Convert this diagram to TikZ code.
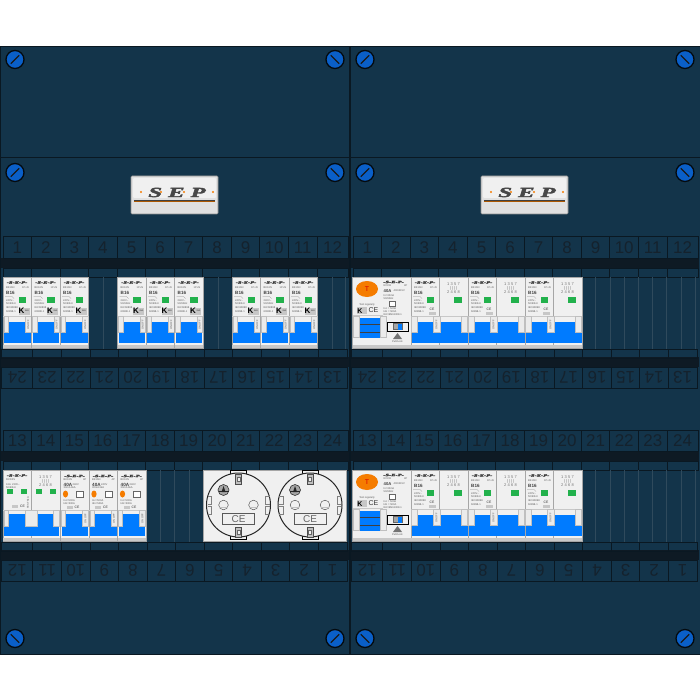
\documentclass[tikz,border=0pt]{standalone}
\usepackage{fontspec}
\setmainfont{Liberation Sans}
\setsansfont{Liberation Sans}
\newfontfamily\logofont{Liberation Serif}[BoldItalicFeatures={FakeBold=2.5}]
\definecolor{panelblue}{HTML}{13344A}
\definecolor{edgedark}{HTML}{0A1822}
\definecolor{banddark}{HTML}{0E1A24}
\definecolor{numdark}{HTML}{15222D}
\definecolor{slotline}{HTML}{2F4A5C}
\definecolor{modwhite}{HTML}{F0F0F0}
\definecolor{modgrey}{HTML}{C8C8C8}
\definecolor{modblue}{HTML}{007BFF}
\definecolor{modgreen}{HTML}{22B14C}
\definecolor{screwblue}{HTML}{0A5FC8}
\definecolor{rcdorange}{HTML}{F57C00}
\tikzset{
  panel/.style={fill=panelblue,draw=edgedark,line width=1pt},
  cellbox/.style={draw=edgedark,line width=1pt},
  band/.style={fill=banddark},
  numtxt/.style={font=\fontsize{17}{17}\selectfont,text=numdark,inner sep=0pt},
  tinytxt/.style={font=\fontsize{2.6}{3}\selectfont,text=black!65,inner sep=0pt},
  ratingtxt/.style={font=\bfseries\fontsize{4.6}{5}\selectfont,text=black!75,inner sep=0pt},
  logotxt/.style={font=\logofont\bfseries\itshape\fontsize{3.6}{4}\selectfont,text=black!80,inner sep=0pt,xscale=1.8},
  kbox/.style={fill=black!22},
  toggle/.style={fill=black!8,draw=black!25,line width=0.4pt},
  screwhead/.style={fill=screwblue,draw=black!80!panelblue,line width=1.3pt},
  screwslot/.style={draw=black!90,line width=1.2pt},
}
\newcommand\numrow[5]{
  \foreach \i in {0,...,11}{
    \pgfmathsetmacro\cellw{\i==11 ? 31 : 28.55}
    \pgfmathsetmacro\cellx{#3+#4*(3+28.55*\i)}
    \pgfmathtruncatemacro\cellnum{#2+\i}
    \draw[cellbox] (\cellx,#1) rectangle +(#4*\cellw,21);
    \node[numtxt,rotate=#5] (num#1a#3a\i) at (\cellx+#4*\cellw/2,#1+10.5) {\cellnum};
  }
}
\newcommand\slotrow[3]{
  \foreach \i in {0,...,11}{
    \pgfmathsetmacro\cellw{\i==11 ? 31 : 28.55}
    \pgfmathsetmacro\cellx{#2+#3*(3+28.55*\i)}
    \draw[cellbox] (\cellx,#1) rectangle +(#3*\cellw,9);
  }
}
\newcommand\screw[3]{
  \draw[screwhead] (#1,#2) circle [radius=9];
  \draw[screwslot,shift={(#1,#2)},rotate=#3] (-6,0)--(6,0);
}
\newcommand\modbody[3]{
  \fill[modwhite] (#1,#2) rectangle +(#3,71);
  \draw[black!35,line width=0.4pt] (#1,#2) rectangle +(#3,71);
}
\newcommand\mcbhead{
  \node[logotxt] (logo) at (14,5.5) {-S-E-P-};
  \node[tinytxt,anchor=west] (type) at (3,10.5) {BK16N};
  \node[tinytxt,anchor=east] (pole) at (26,10.5) {1P+N};
  \node[ratingtxt,anchor=west] (rating) at (3,15.8) {B16};
  \draw[black!45,line width=0.3pt] (2,19.5)--(9,19.5)--(11,21.5);
  \fill[modgreen] (15.5,20) rectangle +(7.5,6);
  \node[tinytxt,anchor=west] (volt) at (3,24) {240V\textasciitilde};
  \node[tinytxt,anchor=west] (freq) at (3,27) {50/60Hz};
  \node[tinytxt,anchor=west] (norm) at (3,31) {IEC60898};
  \node[tinytxt,anchor=west] (code) at (3,34.5) {60898-1};
}
\newcommand\mcb[2]{
  \begin{scope}[shift={(#1,#2)},name prefix=m#1y#2-]
    \modbody{0}{0}{28.5}
    \mcbhead
    \fill[kbox] (15.5,30.5) rectangle +(11,7);
    \node[font=\bfseries\fontsize{8}{8}\selectfont,text=black,inner sep=0pt] (kema) at (18.5,34.2) {K};
    \node[font=\fontsize{2.2}{3}\selectfont,text=black!80,inner sep=0pt] (kcap) at (24,34) {6kA};
    \draw[modgrey,line width=0.5pt] (0,39)--(28.5,39);
    \fill[modgrey] (0.3,68)--(28.2,68)--(28.2,70.7)--(0.3,70.7)--cycle;
    \fill[modblue] (1,44.5) rectangle (27.5,66);
    \draw[toggle] (1,39.5) rectangle (5.5,55);
    \draw[toggle] (22.5,39.5) rectangle (28,55);
    \node[tinytxt,rotate=90] (onoff) at (25.2,48) {ON OFF};
  \end{scope}
}
\newcommand\npoledots[1]{
  \node[font=\fontsize{4}{4.5}\selectfont,text=black!55,inner sep=0pt,align=center] (npole) at (#1+14,11) {1\,\,3\,\,5\,\,7\\[-0.5pt]| | | |\\[-0.5pt]2\,\,4\,\,6\,\,8};
}
\newcommand\dpole[2]{
  \begin{scope}[shift={(#1,#2)},name prefix=d#1y#2-]
    \modbody{0}{0}{57}
    \draw[black!35,line width=0.4pt] (28.5,0)--(28.5,71);
    \mcbhead
    \node[font=\fontsize{3.4}{4}\selectfont,text=black!80,inner sep=0pt] (ce) at (21,32) {CE};
    \fill[kbox] (18,34.5) rectangle +(7,3);
    \npoledots{28.5}
    \fill[modgreen] (43,20) rectangle +(7.5,6);
    \draw[modgrey,line width=0.5pt] (0,39)--(57,39);
    \fill[modgrey] (0.3,68) rectangle (56.7,70.7);
    \fill[modblue] (0.5,44.5) rectangle (56.5,66);
    \draw[toggle] (0.5,39.5) rectangle (6.5,55);
    \draw[toggle] (22,39.5) rectangle (29.5,55);
    \draw[toggle] (50.5,39.5) rectangle (56.5,55);
    \node[tinytxt,rotate=90] (onoff) at (25.5,48) {ON OFF};
  \end{scope}
}
\newcommand\spole[2]{
  \begin{scope}[shift={(#1,#2)},name prefix=p#1y#2-]
    \modbody{0}{0}{57}
    \draw[black!35,line width=0.4pt] (28.5,0)--(28.5,71);
    \node[logotxt] (logo) at (14,5.5) {-S-E-P-};
    \node[tinytxt,anchor=west] (type) at (3,10) {RCD2S};
    \node[tinytxt,anchor=west] (volt) at (3,14.5) {16A\,\,\,230V\textasciitilde};
    \node[tinytxt,anchor=west] (freq) at (3,18) {50/60Hz};
    \npoledots{28.5}
    \foreach \greenx in {4,18,33,47}
      \fill[modgreen] (\greenx,19) rectangle +(6,5);
    \node[tinytxt,rotate=90] (test) at (25,33) {TEST 6kA};
    \fill[kbox] (8.5,34.5) rectangle +(6,3);
    \node[font=\fontsize{3.4}{4}\selectfont,text=black!80,inner sep=0pt] (ce) at (19.5,36) {CE};
    \draw[modgrey,line width=0.5pt] (0,40)--(57,40);
    \fill[modgrey] (0.3,68) rectangle (56.7,70.7);
    \fill[modblue] (1,44) rectangle (56,66);
    \draw[toggle] (1,40.5) rectangle (5.5,56);
    \draw[toggle] (22,40.5) rectangle (34.5,56);
    \draw[toggle] (50,40.5) rectangle (56,56);
  \end{scope}
}
\newcommand\rcd[2]{
  \begin{scope}[shift={(#1,#2)},name prefix=r#1y#2-]
    \modbody{0}{0}{58.5}
    \fill[rcdorange] (14.5,12) circle [x radius=11,y radius=8];
    \node[font=\fontsize{7}{7}\selectfont,text=red!85!black,inner sep=0pt] (test) at (14.5,12) {T};
    \node[tinytxt] (regular) at (14.5,28) {Test regularly};
    \node[logotxt] (logo) at (41,5) {-S-E-P-};
    \node[tinytxt,anchor=west] (type) at (31,9) {RCCB};
    \node[tinytxt,anchor=east] (pole) at (55,9) {4P};
    \node[font=\bfseries\fontsize{4.2}{5}\selectfont,text=black!75,inner sep=0pt,anchor=west] (amps) at (31,14) {40A};
    \node[tinytxt,anchor=west] (volt) at (41,14) {400/415V};
    \node[tinytxt,anchor=west] (idn) at (31,18.5) {In=30mA};
    \node[tinytxt,anchor=west] (hz) at (31,22) {50/60Hz};
    \draw[black!60,fill=white,line width=0.4pt] (37,24.5) rectangle +(5.5,5);
    \node[tinytxt,anchor=west] (inc) at (31,32) {Inc = 500A};
    \node[tinytxt,anchor=west] (idc) at (31,35) {Idn = 500A};
    \node[tinytxt,anchor=west] (norm) at (31,38) {IEC/EN61008-1};
    \fill[kbox] (4,30) rectangle +(10,7);
    \node[font=\bfseries\fontsize{7}{7}\selectfont,text=black,inner sep=0pt] (kema) at (7.5,33.6) {K};
    \node[font=\fontsize{7}{7}\selectfont,text=black!80,inner sep=0pt] (ce) at (21,33.5) {CE};
    \draw[modgrey,line width=0.5pt] (0,38.5)--(30,38.5);
    \fill[modgrey] (0.3,68) rectangle (58.2,70.7);
    \fill[modblue] (7,41) rectangle (28,61);
    \draw[black!75,line width=0.5pt] (7,47)--(28,47) (7,55)--(28,55);
    \draw[toggle] (1,39) rectangle (7,60);
    \draw[toggle] (28,39) rectangle (34,60);
    \draw[black,fill=modwhite,line width=0.8pt] (35,45) rectangle (56,54);
    \draw[black!60,fill=black!35,line width=0.4pt] (41,46.5) rectangle (50,52.5);
    \fill[modblue] (45,46.5) rectangle (49,52.5);
    \fill[black!55] (40.5,62)--(49.5,62)--(45,56)--cycle;
    \node[tinytxt] (lock) at (45,64.5) {Pull/Lock};
  \end{scope}
}
\newcommand\rcbo[2]{
  \begin{scope}[shift={(#1,#2)},name prefix=b#1y#2-]
    \modbody{0}{0}{28.5}
    \node[logotxt] (logo) at (14,6) {-S-E-P-};
    \node[tinytxt,anchor=west] (type) at (3,10) {BK16N};
    \node[tinytxt,anchor=east] (pole) at (26,10) {4P};
    \node[ratingtxt,anchor=west] (amps) at (3,14.5) {40A};
    \node[tinytxt,anchor=west] (volt) at (12,14.5) {240V};
    \node[tinytxt,anchor=west] (idn) at (3,18) {30mA 6kA};
    \fill[rcdorange] (5,24) circle [x radius=2.6,y radius=3.5];
    \draw[black!60,fill=white,line width=0.4pt] (16,21) rectangle +(7,6);
    \node[tinytxt,anchor=west] (inc) at (3,31) {Inc=500A};
    \node[tinytxt,anchor=west] (idc) at (3,34) {Idn=500A};
    \fill[kbox] (6,35.5) rectangle +(6,3);
    \node[font=\fontsize{3.4}{4}\selectfont,text=black!80,inner sep=0pt] (ce) at (16.5,37) {CE};
    \draw[modgrey,line width=0.5pt] (0,40)--(28.5,40);
    \fill[modgrey] (0.3,68) rectangle (28.2,70.7);
    \fill[modblue] (1,44) rectangle (27.5,66);
    \draw[toggle] (1,40.5) rectangle (5,56);
    \draw[toggle] (22,40.5) rectangle (28,56);
    \node[tinytxt,rotate=90] (onoff) at (25,48.5) {ON OFF};
  \end{scope}
}
\newcommand\socket[2]{
  \begin{scope}[shift={(#1,#2)},name prefix=s#1y#2-]
    \draw[black,fill=modwhite,line width=0.5pt] (-8,-34.5) rectangle (8,34.5);
    \draw[black!85,fill=modwhite,line width=1pt] (0,0) circle [radius=32];
    \draw[black!70,fill=black!25,line width=0.7pt] (-3,-31) rectangle (3,-21);
    \draw[black!70,fill=black!25,line width=0.7pt] (-3,22) rectangle (3,32);
    \draw[black!60,fill=modwhite,line width=0.5pt] (-1.5,-28) rectangle (1.5,-24);
    \draw[black!60,fill=modwhite,line width=0.5pt] (-1.5,25) rectangle (1.5,29);
    \draw[black!80,fill=black!35,line width=0.6pt] (-15,-15) circle [radius=5.5];
    \fill[black!85] (-17,-13)--(-13,-13)--(-15,-19)--cycle;
    \draw[black!85,line width=0.6pt] (-20,-13.5)--(-10,-13.5);
    \draw[black!65,fill=modwhite,line width=0.5pt] (-15,0) circle [radius=4.8];
    \fill[black!25] (-19.4,1.5) rectangle (-10.6,2.5);
    \draw[black!65,fill=modwhite,line width=0.5pt] (15,0) circle [radius=4.8];
    \fill[black!25] (10.6,1.5) rectangle (19.4,2.5);
    \draw[black!65,line width=0.5pt] (-16,8.5) rectangle (16,19);
    \node[font=\fontsize{10}{10}\selectfont,text=black!60,inner sep=0pt] (ce) at (0,14) {CE};
    \draw[black!50,line width=0.5pt] (-31,-9)--(-27,-9)--(-27,-1)--(-31,-1);
    \draw[black!50,line width=0.5pt] (-31,9)--(-27,9)--(-27,1)--(-31,1);
    \draw[black!50,line width=0.5pt] (31,-9)--(27,-9)--(27,-1)--(31,-1);
    \draw[black!50,line width=0.5pt] (31,9)--(27,9)--(27,1)--(31,1);
  \end{scope}
}
\newcommand\seplogo[1]{
  \begin{scope}[shift={(#1,0)},name prefix=l#1-]
    \draw[black!45,fill=black!12,rounded corners=1pt,line width=0.6pt] (131,176) rectangle (218,214);
    \fill[black!6,rounded corners=1pt] (133,178) rectangle (216,198);
    \node[font=\logofont\bfseries\itshape\fontsize{14}{14}\selectfont,text=black!72,xscale=1.75,inner sep=0pt] (sep) at (177,192.5) {S\hspace{3.5pt}E\hspace{3.5pt}P};
    \foreach \dotx in {141,161,184,213}
      \fill[rcdorange] (\dotx,192) circle [radius=1.2];
    \draw[rcdorange!70!black,line width=0.5pt] (134,201.2)--(215,201.2);
    \draw[black!75,line width=0.9pt] (134,200)--(215,200);
  \end{scope}
}
\begin{document}
\begin{tikzpicture}[x=1pt,y=-1pt]
\useasboundingbox (0,0) rectangle (700,700);
\fill[white] (0,0) rectangle (700,700);
\draw[panel] (0,46.5) rectangle (350,654);
\draw[panel] (350,46.5) rectangle (700,654);

\foreach \off in {0,350}{
  \draw[edgedark,line width=1pt] (\off,157.5)--(\off+350,157.5);
  \fill[band] (\off+1,258) rectangle (\off+349,268);
  \fill[band] (\off+1,357) rectangle (\off+349,367);
  \fill[band] (\off+1,451) rectangle (\off+349,461);
  \fill[band] (\off+1,550) rectangle (\off+349,560);
  \numrow{237}{1}{\off}{1}{0}
  \numrow{367}{13}{\off+350}{-1}{180}
  \numrow{430}{13}{\off}{1}{0}
  \numrow{560}{1}{\off+350}{-1}{180}
  \slotrow{268}{\off}{1}
  \slotrow{349}{\off+350}{-1}
  \slotrow{461}{\off}{1}
  \slotrow{542}{\off+350}{-1}
}
\draw[edgedark,line width=2.2pt] (350,46.5)--(350,654);

\foreach \linex in {103,218,332,345}
  \draw[slotline,line width=0.7pt] (\linex,277)--(\linex,349);
\foreach \linex in {160,174,189}
  \draw[slotline,line width=0.7pt] (\linex,470)--(\linex,542);
\foreach \y in {277,470}
  \foreach \k in {1,...,8}
    \draw[slotline,line width=0.7pt] (581.5+14.2*\k,\y)--(581.5+14.2*\k,\y+72);

\foreach \sx/\sa in {15/45,335/-45,365/45,685/-45}{
  \screw{\sx}{59.5}{\sa}
  \screw{\sx}{172.5}{\sa}
}
\foreach \sx/\sa in {15/-45,335/45,365/-45,685/45}{
  \screw{\sx}{638.5}{\sa}
}

\seplogo{0}
\seplogo{350}

\foreach \mx in {3,31.5,60,117.5,146,174.5,232,260.5,289}{
  \mcb{\mx}{277}
}
\foreach \my in {277,470}{
  \rcd{352.5}{\my}
  \foreach \mx in {411,468,525}{
    \dpole{\mx}{\my}
  }
}
\spole{3}{470}
\foreach \mx in {60.5,89,117.5}{
  \rcbo{\mx}{470}
}

\fill[modwhite] (203,470) rectangle (346.5,541.5);
\draw[black!35,line width=0.4pt] (203,470) rectangle (346.5,541.5);
\socket{238.5}{505}
\socket{310}{505}
\end{tikzpicture}
\end{document}
